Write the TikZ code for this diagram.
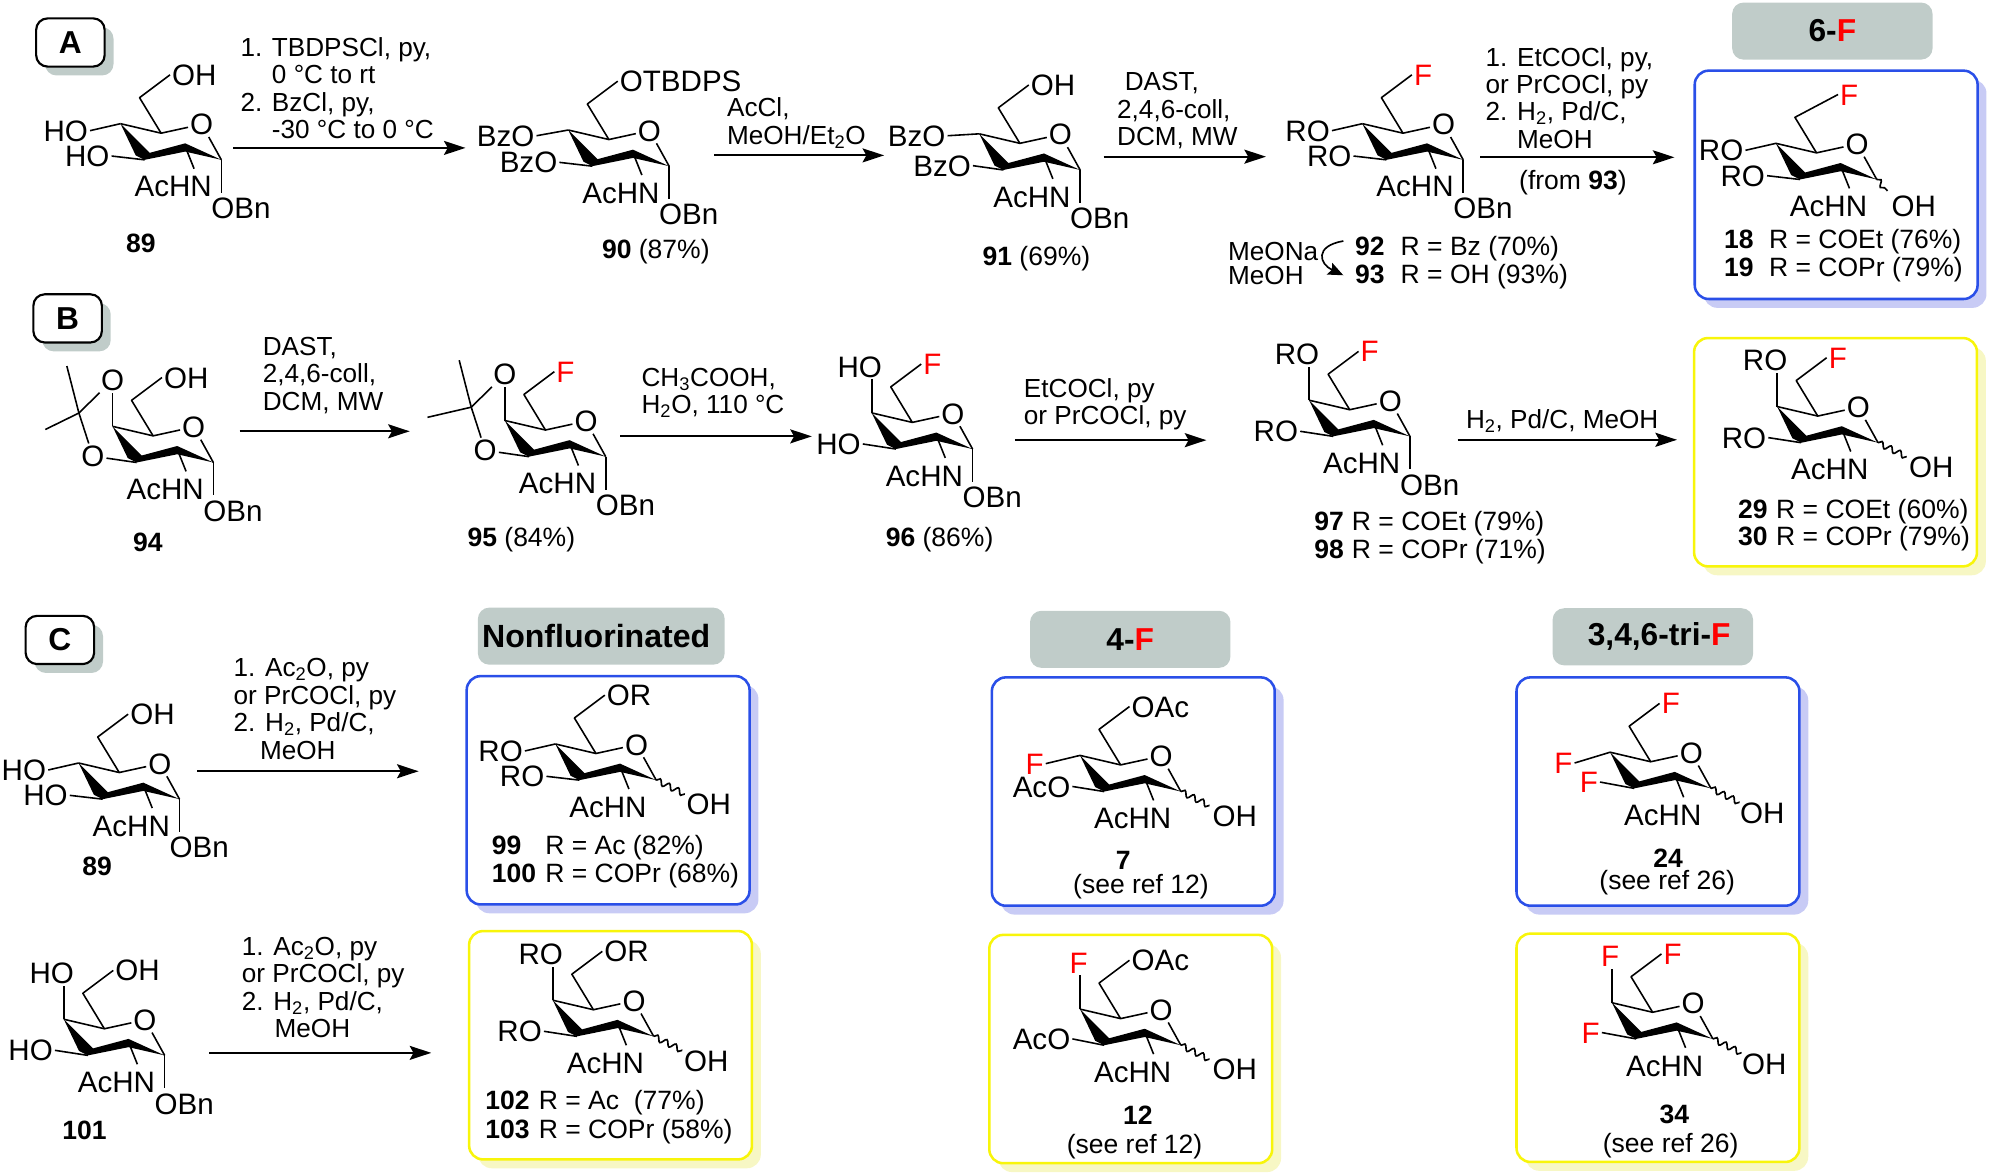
\documentclass[tikz,border=0pt]{standalone}
\usepackage{fontspec}
\setmainfont{Liberation Sans}
\usetikzlibrary{arrows.meta,calc,shadows,decorations.pathmorphing}

\definecolor{panelgray}{HTML}{C0CCC9}
\definecolor{boxblue}{HTML}{2A4FE8}
\definecolor{shadeblue}{HTML}{C8CBF5}
\definecolor{boxyellow}{HTML}{F8F50A}
\definecolor{shadeyellow}{HTML}{F7F7C4}

\tikzset{
  atom/.style={inner sep=1.5pt,font=\fontsize{23.3}{24}\selectfont,text height=16.6pt,text depth=0pt},
  cond/.style={inner sep=0pt,anchor=north west,align=left,font=\fontsize{20.6}{21.6}\selectfont},
  lab/.style={inner sep=0pt,font=\fontsize{20.9}{22}\selectfont,text height=15pt,text depth=0pt},
  bond/.style={line width=1.25pt},
  rxn/.style={line width=1.7pt,-{Stealth[length=17pt,width=11pt,inset=3pt]}},
  wavy/.style={line width=1.3pt,decorate,decoration={snake,amplitude=2.3pt,segment length=8pt}},
  letter/.style={draw,line width=1.7pt,fill=white,rounded corners=9pt,minimum width=54pt,minimum height=38pt,font=\fontsize{25}{25}\selectfont\bfseries,
    general shadow={shadow xshift=7pt,shadow yshift=-7pt,fill=panelgray}},
  header/.style={fill=panelgray,rounded corners=9pt,minimum width=158pt,minimum height=45pt,font=\fontsize{25}{25}\selectfont\bfseries},
  bluebox/.style={draw=boxblue,line width=2pt,fill=white,rounded corners=11pt,minimum width=223pt,minimum height=180pt,
    general shadow={shadow xshift=7pt,shadow yshift=-7pt,fill=shadeblue}},
  yellowbox/.style={draw=boxyellow,line width=2pt,fill=white,rounded corners=11pt,minimum width=223pt,minimum height=180pt,
    general shadow={shadow xshift=7pt,shadow yshift=-7pt,fill=shadeyellow}},
}

\newcommand{\ringF}{\textcolor{red}{F}}
\newcommand{\ind}{\hphantom{1. }}

% name, C5 position, text on C6; optional: place of that text
\newcommand{\ring}[4][7,-46]{
  \begin{scope}[shift={(#3)}]
    \coordinate (#2c5) at (0,0);
    \coordinate (#2c4) at (-32,-7.5);
    \coordinate (#2c3) at (-13,21);
    \coordinate (#2c2) at (19,10.5);
    \coordinate (#2c1) at (47.5,21);
    \coordinate (#2c6) at (-17,-28);
    \coordinate (#2n) at (26,28);
    \node[atom] (#2o) at (32,-7) {O};
    \node[atom] (#2ac) at (9.5,42) {AcHN};
    \node[atom,anchor=west] (#2t6) at (#1) {#4};
    \fill (#2c4) -- (-20,17.5) -- (#2c3) -- (19,14.5) -- (#2c1) -- (19,8) -- (-9,15.5) -- cycle;
    \draw[bond,line join=round] (#2c4) -- (#2c5) -- (#2o) -- (#2c1);
    \draw[bond,line join=round] (#2c5) -- (#2c6) -- (#2t6.west);
    \draw[bond] (#2c2) -- (#2n);
  \end{scope}
}
% name, carbon, anchor, place, text
\newcommand{\subst}[5]{
  \begin{scope}[shift={(#1c5)}]
    \node[atom,anchor=#3] (#1#2t) at (#4) {#5};
  \end{scope}
  \draw[bond] (#1#2) -- (#1#2t.#3);
}
\newcommand{\cfour}[3][-56,-2]{\subst{#2}{c4}{east}{#1}{#3}}
\newcommand{\cthree}[3][-39,18]{\subst{#2}{c3}{east}{#1}{#3}}
% axial group on C4
\newcommand{\axial}[3][-41.5,-44]{
  \begin{scope}[shift={(#2c5)}]
    \node[atom] (#2c4t) at (#1) {#3};
  \end{scope}
  \draw[bond] (#2c4) -- (#2c4 |- #2c4t.south);
}
\newcommand{\obn}[1]{
  \begin{scope}[shift={(#1c5)}]
    \coordinate (#1e) at (47.5,47);
    \node[atom] (#1bn) at (63,59) {OBn};
  \end{scope}
  \draw[bond] (#1c1) -- (#1e);
}
% name, end of the wavy bond, place of OH
\newcommand{\anomer}[3]{
  \begin{scope}[shift={(#1c5)}]
    \coordinate (#1e) at (#2);
    \node[atom] (#1oh) at (#3) {OH};
  \end{scope}
  \draw[wavy] (#1c1) -- (#1e);
}
% name, end of the second methyl
\newcommand{\acetal}[2]{
  \begin{scope}[shift={(#1c5)}]
    \coordinate (#1cq) at (-58.5,-18);
    \coordinate (#1me) at (-68,-55);
    \coordinate (#1mf) at (#2);
    \node[atom] (#1ou) at (-32,-44) {O};
    \node[atom] (#1ol) at (-47.5,16) {O};
  \end{scope}
  \draw[bond] (#1c4) -- (#1ou);
  \draw[bond] (#1c3) -- (#1ol);
  \draw[bond] (#1cq) -- (#1ou);
  \draw[bond] (#1cq) -- (#1ol);
  \draw[bond] (#1cq) -- (#1me);
  \draw[bond] (#1cq) -- (#1mf);
}
% name, left end, y, width of the number, number, text
\newcommand{\rline}[6]{
  \node[lab,anchor=west] (#1) at (#2,#3) {\makebox[#4pt][l]{\textbf{#5}}#6};
}

\begin{document}
\begin{tikzpicture}[x=1pt,y=-1pt]
\useasboundingbox (0,0) rectangle (1568,925.5);

% panels and boxes
\node[letter] (LA) at (55.5,33.5)  {A};
\node[letter] (LB) at (53.3,251)   {B};
\node[letter] (LC) at (47.2,504.5) {C};

\node[header] (H6F) at (1444.5,24.5) {6-\ringF};
\node[header,minimum width=193pt] (HN) at (474,501.5) {\fontsize{25.3}{25}\selectfont Nonfluorinated\hspace*{8pt}};
\node[header] (H4F) at (891,504) {4-\ringF};
\node[header] (H3F) at (1303,502) {\hspace*{10pt}3,4,6-tri-\ringF};

\node[bluebox]   (B18)  at (1447.5,145.7) {};
\node[yellowbox] (B29)  at (1447,356.5)   {};
\node[bluebox]   (B99)  at (479.4,623)    {};
\node[yellowbox] (B102) at (481.3,824)    {};
\node[bluebox]   (B7)   at (893.4,624)    {};
\node[yellowbox] (B12)  at (891.4,827)    {};
\node[bluebox]   (B24)  at (1307,624)     {};
\node[yellowbox] (B34)  at (1307,826)     {};

% row A
\ring{Ma}{127,105}{OH}       \cfour{Ma}{HO}  \cthree{Ma}{HO}  \obn{Ma}
\ring{Mb}{480,110}{OTBDPS}   \cfour[-57,-3]{Mb}{BzO} \cthree{Mb}{BzO} \obn{Mb}
\ring{Mc}{804,113}{OH}       \cfour[-57,-6]{Mc}{BzO} \cthree[-37,17.6]{Mc}{BzO} \obn{Mc}
\ring{Md}{1106,105}{\ringF}  \cfour{Md}{RO}  \cthree{Md}{RO}  \obn{Md}
\ring[17,-46]{Me}{1432,120.5}{\ringF} \cfour{Me}{RO} \cthree{Me}{RO} \anomer{Me}{56,30}{76.7,41.5}

% row B
\ring{Mf}{120.7,343.6}{OH}   \acetal{Mf}{-85,-5}  \obn{Mf}
\ring{Mg}{430,339}{\ringF}   \acetal{Mg}{-93,-10} \obn{Mg}
\ring{Mh}{719.2,333}{\ringF} \axial{Mh}{HO} \cthree[-39,17]{Mh}{HO} \obn{Mh}
\ring{Mi}{1064,323}{\ringF}  \axial{Mi}{RO} \cthree[-39,17]{Mi}{RO} \obn{Mi}
\ring{Mj}{1433,328}{\ringF}  \axial{Mj}{RO} \cthree[-39,17]{Mj}{RO} \anomer{Mj}{70,32}{89.5,40}

% row C, left
\ring{Mk}{94,609}{OH}        \cfour{Mk}{HO} \cthree{Mk}{HO} \obn{Mk}
\ring{Ml}{82.3,811}{OH}      \axial{Ml}{HO} \cthree[-39,17]{Ml}{HO} \obn{Ml}
\ring{Mm}{469.8,594}{OR}     \cfour{Mm}{RO} \cthree{Mm}{RO} \anomer{Mm}{70,32}{89,40}
\ring{Mn}{467.8,796}{OR}     \axial{Mn}{RO} \cthree[-39,17]{Mn}{RO} \anomer{Mn}{70,32}{89,40}

% row C, right
\ring{Mo}{883.4,603}{OAc}    \cfour[-59,-1]{Mo}{\ringF} \cthree[-38,17]{Mo}{AcO} \anomer{Mo}{70,32}{90,40}
\ring{Mp}{883.4,803}{OAc}    \axial[-33,-44]{Mp}{\ringF} \cthree[-38,16]{Mp}{AcO} \anomer{Mp}{70,32}{90,40}
\ring{Mq}{1301.3,600.5}{\ringF} \cfour[-60,1]{Mq}{\ringF} \cthree[-40,16]{Mq}{\ringF} \anomer{Mq}{70,32}{88,40}
\ring{Mr}{1302.8,798}{\ringF} \axial[-33.5,-44]{Mr}{\ringF} \cthree[-40,16]{Mr}{\ringF} \anomer{Mr}{70,32}{88,41}

% reagents
\node[cond] (C1) at (189.4,29.4) {1. TBDPSCl, py,\\\ind 0 °C to rt\\2. BzCl, py,\\\ind -30 °C to 0 °C};
\node[cond] (C2) at (573,77)     {AcCl,\\MeOH/Et\textsubscript{2}O};
\node[cond] (C3) at (880.5,57)   {\hspace*{6pt}DAST,\\2,4,6-coll,\\DCM, MW};
\node[cond] (C4) at (1171,37)    {1. EtCOCl, py,\\or PrCOCl, py\\2. H\textsubscript{2}, Pd/C,\\\ind MeOH};
\node[lab]  (C5) at (1240,141.6) {(from \textbf{93})};
\node[cond] (C6) at (207,265.5)  {DAST,\\2,4,6-coll,\\DCM, MW};
\node[cond] (C7) at (505.6,290)  {CH\textsubscript{3}COOH,\\H\textsubscript{2}O, 110 °C};
\node[cond] (C8) at (807,298)    {EtCOCl, py\\or PrCOCl, py};
\node[cond] (C9) at (1155.5,322.5) {H\textsubscript{2}, Pd/C, MeOH};
\node[cond] (C10) at (184,519)   {1. Ac\textsubscript{2}O, py\\or PrCOCl, py\\2. H\textsubscript{2}, Pd/C,\\\ind\hspace{-4pt}MeOH};
\node[cond] (C11) at (190.5,738.5) {1. Ac\textsubscript{2}O, py\\or PrCOCl, py\\2. H\textsubscript{2}, Pd/C,\\\ind\hspace{1pt}MeOH};
\node[cond] (C12) at (968,191)   {MeONa\\[-3pt]MeOH};

% arrows
\foreach \n/\xa/\xb/\y in {a/184/367/116.6, b/563/697/122.5, c/870/998/123.5, d/1167/1320/124,
    e/189/323/340, f/489/640/344, g/800/951/347, h/1149/1322/346.7,
    i/155.5/330/608, j/165/340/830} {
  \coordinate (S\n) at (\xa,\y);
  \coordinate (E\n) at (\xb,\y);
  \draw[rxn] (S\n) -- (E\n);
}
\coordinate (Sk) at (1059,190);
\coordinate (Ek) at (1059,217);
\draw[line width=1.3pt,-{Stealth[length=12pt,width=10pt,inset=2pt]}] (Sk) .. controls (1036,194) and (1040,208) .. (Ek);

% compound labels
\node[lab] (N89)  at (111,191.6) {\textbf{89}};
\node[lab] (N90)  at (517,196)   {\textbf{90} (87\%)};
\node[lab] (N91)  at (817,202)   {\textbf{91} (69\%)};
\rline{N92}{1068}{194}{36}{92}{R = Bz (70\%)}
\rline{N93}{1068}{216}{36}{93}{R = OH (93\%)}
\rline{N18}{1359}{188.7}{35.4}{18}{R = COEt (76\%)}
\rline{N19}{1359}{210.5}{35.4}{19}{R = COPr (79\%)}
\node[lab] (N94)  at (116.6,427) {\textbf{94}};
\node[lab] (N95)  at (411,423)   {\textbf{95} (84\%)};
\node[lab] (N96)  at (740.7,423) {\textbf{96} (86\%)};
\rline{N97}{1036}{411}{29.6}{97}{R = COEt (79\%)}
\rline{N98}{1036}{433}{29.6}{98}{R = COPr (71\%)}
\rline{N29}{1370}{401}{30}{29}{R = COEt (60\%)}
\rline{N30}{1370}{422.6}{30}{30}{R = COPr (79\%)}
\node[lab] (N89c) at (76.6,682.5) {\textbf{89}};
\node[lab] (N101) at (66.6,890.6) {\textbf{101}};
\rline{N99}{387.5}{666}{42.2}{99}{R = Ac (82\%)}
\rline{N100}{387.5}{688}{42.2}{100}{R = COPr (68\%)}
\rline{N102}{382.4}{867.5}{42.2}{102}{R = Ac\ \ (77\%)}
\rline{N103}{382.4}{890}{42.2}{103}{R = COPr (58\%)}
\node[lab] (N7)   at (885.5,678)  {\textbf{7}};
\node[lab] (R7)   at (899.5,697)  {(see ref 12)};
\node[lab] (N12)  at (897,879)    {\textbf{12}};
\node[lab] (R12)  at (894.4,902)  {(see ref 12)};
\node[lab] (N24)  at (1315,676)   {\textbf{24}};
\node[lab] (R24)  at (1314.3,694) {(see ref 26)};
\node[lab] (N34)  at (1320,878)   {\textbf{34}};
\node[lab] (R34)  at (1317,901.4) {(see ref 26)};

\end{tikzpicture}
\end{document}
